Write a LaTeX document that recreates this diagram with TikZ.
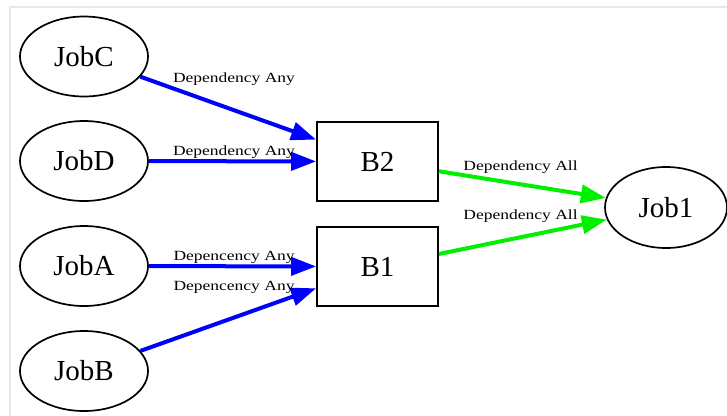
\documentclass[tikz,border=0pt]{standalone}
\usepackage{fontspec}
\setmainfont{Liberation Serif}
\newfontfamily\edgefont[FakeStretch=1.25]{Liberation Serif}
\usetikzlibrary{shapes.geometric,arrows.meta}
\definecolor{anyblue}{RGB}{0,0,255}
\definecolor{allgreen}{RGB}{0,240,0}
\definecolor{framegray}{RGB}{232,232,232}
\begin{document}
\begin{tikzpicture}[x=1bp,y=-1bp,
  job/.style={draw,ellipse,line width=1.7bp,inner sep=0pt,
    minimum width=128bp,minimum height=80bp,font=\fontsize{29bp}{34bp}\selectfont},
  bundle/.style={draw,rectangle,line width=1.8bp,inner sep=0pt,
    minimum width=121bp,minimum height=79bp,font=\fontsize{29bp}{34bp}\selectfont},
  anydep/.style={anyblue,line width=4bp,-{Triangle[length=25bp,width=18bp]}},
  alldep/.style={allgreen,line width=4bp,-{Triangle[length=25bp,width=18bp]}},
  lbl/.style={anchor=base,inner sep=0pt,font=\edgefont\fontsize{14bp}{16bp}\selectfont}]
  \useasboundingbox (0,0) rectangle (727,415);
  \draw[framegray,line width=1.5bp] (10,7) rectangle (760,440);
  % jobs on the left
  \node[job] (jobC) at (84,56.5) {JobC};
  \node[job] (jobD) at (84,161) {JobD};
  \node[job] (jobA) at (84,266) {JobA};
  \node[job] (jobB) at (84,371) {JobB};
  % bundles
  \node[bundle] (b2) at (377.5,161.5) {B2};
  \node[bundle] (b1) at (377.5,266.5) {B1};
  \node[job,minimum width=122bp,minimum height=81bp] (job1) at (666,207.5) {Job1};
  % edges
  \draw[anydep] (jobC) -- (b2);
  \draw[anydep] (jobD) -- (b2);
  \draw[anydep] (jobA) -- (b1);
  \draw[anydep] (jobB) -- (b1);
  \draw[alldep] (b2) -- (job1);
  \draw[alldep] (b1) -- (job1);
  % labels
  \node[lbl] (lC) at (234,82.5) {Dependency Any};
  \node[lbl] (lD) at (234,155) {Dependency Any};
  \node[lbl] (lA) at (234,260.5) {Depencency Any};
  \node[lbl] (lB) at (234,290) {Depencency Any};
  \node[lbl] (l2) at (520.5,170) {Dependency All};
  \node[lbl] (l1) at (520.5,219) {Dependency All};
\end{tikzpicture}
\end{document}
